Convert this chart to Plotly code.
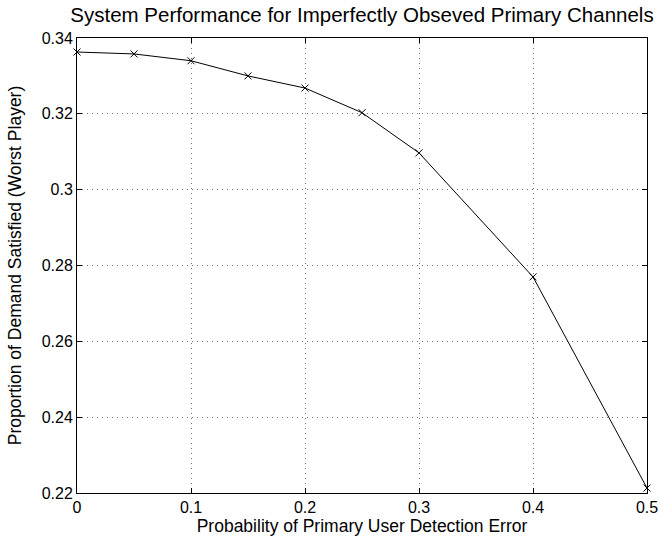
import plotly.graph_objects as go

x_vals = [0, 0.05, 0.1, 0.15, 0.2, 0.25, 0.3, 0.4, 0.5]
y_vals = [0.3363, 0.3358, 0.3340, 0.3300, 0.3268, 0.3203, 0.3097, 0.2770, 0.2213]
x_ticks = [0, 0.1, 0.2, 0.3, 0.4, 0.5]
x_tick_labels = ["0", "0.1", "0.2", "0.3", "0.4", "0.5"]
y_ticks = [0.22, 0.24, 0.26, 0.28, 0.30, 0.32, 0.34]
y_tick_labels = ["0.22", "0.24", "0.26", "0.28", "0.3", "0.32", "0.34"]

font = "Liberation Sans, Arial, sans-serif"

fig = go.Figure()
fig.add_trace(go.Scatter(
    x=x_vals, y=y_vals, mode="lines+markers",
    line=dict(color="black", width=1),
    marker=dict(symbol="x-thin", size=7, color="black",
                line=dict(color="black", width=1)),
    showlegend=False, cliponaxis=False,
))

axis_common = dict(
    showline=True, linecolor="black", linewidth=1, mirror="ticks",
    ticks="inside", ticklen=5, tickcolor="black",
    showgrid=True, gridcolor="#707070", griddash="1px,4px", gridwidth=1,
    zeroline=False, automargin=False,
    tickfont=dict(family=font, size=16, color="black"),
)

fig.update_layout(
    width=659, height=540,
    paper_bgcolor="white", plot_bgcolor="white",
    margin=dict(l=77, r=12, t=38, b=47),
    title=dict(text="System Performance for Imperfectly Obseved Primary Channels",
               x=0.5, xanchor="center", xref="paper",
               y=1 - 15 / 540, yref="container", yanchor="middle",
               font=dict(family=font, size=20.5, color="black")),
    xaxis=dict(range=[0, 0.5], tickvals=x_ticks, ticktext=x_tick_labels,
               title=dict(text="Probability of Primary User Detection Error",
                          font=dict(family=font, size=17.5, color="black"), standoff=0),
               **axis_common),
    yaxis=dict(range=[0.22, 0.34], tickvals=y_ticks, ticktext=y_tick_labels,
               title=dict(text="Proportion of Demand Satisfied (Worst Player)",
                          font=dict(family=font, size=17.5, color="black"), standoff=15),
               **axis_common),
)

fig.write_html("out.html", config={"displayModeBar": False},
               post_script="document.body.style.margin='0';document.body.style.overflow='hidden';")
